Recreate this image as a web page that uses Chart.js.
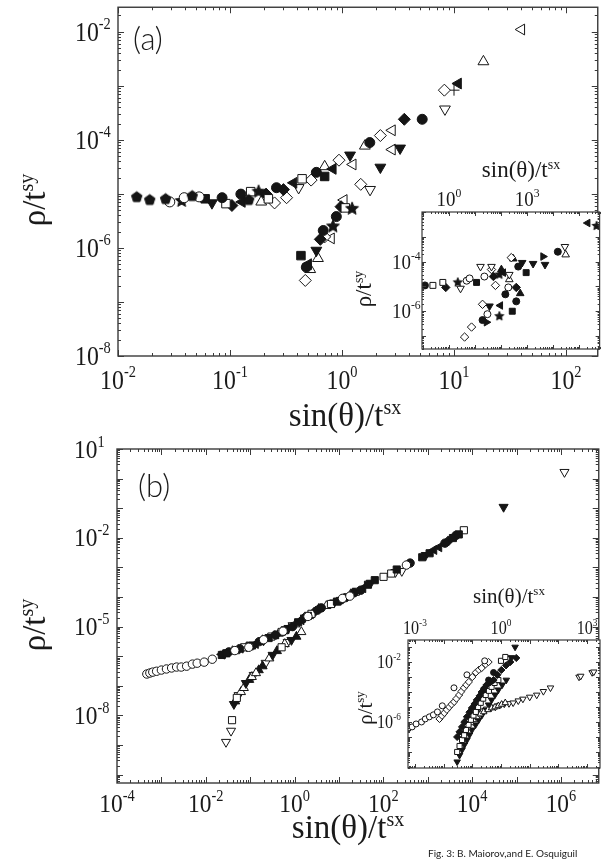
<!DOCTYPE html>
<html>
<head>
<meta charset="utf-8">
<script src="https://cdn.jsdelivr.net/npm/chart.js@4/dist/chart.umd.min.js"></script>
<style>
  body { margin: 0; background: #fff; }
  #wrap { position: relative; width: 605px; height: 861px; }
  #wrap canvas { position: absolute; left: 0; top: 0; }
</style>
</head>
<body>
<div id="wrap">
  <canvas id="mainA" width="605" height="861"></canvas>
  <canvas id="insetA" width="605" height="861"></canvas>
  <canvas id="mainB" width="605" height="861"></canvas>
  <canvas id="insetB" width="605" height="861"></canvas>
</div>
<script>
// ---- panel (a), main plot: [sin(theta)/t^sx, rho/t^sy]
const aPentF = [[0.0147, 8.7e-6], [0.0192, 7.7e-6], [0.0266, 8.0e-6], [0.046, 9.1e-6], [0.147, 7.7e-6]];
const aCircO = [[0.029, 7.1e-6], [0.039, 8.5e-6], [0.053, 8.8e-6]];
const aStarF = [[0.037, 7.4e-6], [0.18, 1.1e-5], [0.83, 2.5e-6], [1.23, 5.3e-6]];
const aSqF = [[0.060, 8.1e-6], [0.70, 2.1e-5], [0.43, 7.2e-7]];
const aDTriF = [[0.069, 6.8e-6], [1.18, 5.2e-5], [0.59, 9e-7], [2.2, 3.1e-5], [3.3, 7e-5]];
const aCircF = [[0.085, 8.5e-6], [0.125, 9.9e-6], [0.26, 1.3e-5], [0.59, 2.5e-5], [1.77, 8.9e-5], [5.2, 2.4e-4], [0.48, 4.4e-7], [0.68, 2.1e-6], [0.89, 3.8e-6]];
const aSqO = [[0.092, 6.6e-6], [0.153, 1.1e-5], [0.22, 8.1e-6], [0.44, 1.9e-5], [1.07, 5.5e-6]];
const aDiaF = [[0.104, 6.1e-6], [0.21, 9.9e-6], [0.30, 1.2e-5], [3.6, 2.4e-4], [0.64, 1.44e-6], [0.98, 5.8e-6]];
const aLTriF = [[0.128, 7.1e-6], [0.37, 1.6e-5], [0.83, 2.9e-5], [10.9, 1.1e-3], [0.50, 5e-7]];
const aTriO = [[0.19, 7.1e-6], [0.70, 3.2e-5], [1.6, 7.7e-5], [18.3, 2.8e-3], [0.52, 4e-7], [0.61, 6.4e-7]];
const aDiaO = [[0.25, 6.8e-6], [0.32, 8.5e-6], [0.53, 1.8e-5], [0.94, 4.2e-5], [2.2, 1.2e-4], [8.2, 8.3e-4], [0.47, 2.5e-7], [0.70, 1.6e-6], [1.47, 1.5e-5]];
const aLTriO = [[1.25, 3.5e-5], [2.8, 1.5e-4], [40, 1.1e-2], [0.80, 1.5e-6], [1.04, 7.7e-6], [2.8, 6.6e-5]];
const aDTriO = [[0.41, 1.3e-5], [1.78, 1.2e-5], [8.3, 3.7e-4]];
const aPlus = [[10, 8.3e-4]];

// ---- panel (a), inset
const iaCircF = [[0.121, 1.1e-5], [455, 6.3e-5], [1.5e4, 2.5e-4], [19.5, 4.4e-7], [146, 4.8e-6], [382, 2.5e-6]];
const iaSqO = [[0.244, 1.1e-5], [0.586, 1.45e-5]];
const iaDiaF = [[0.76, 9.1e-6], [51, 2.5e-5], [382, 9.1e-6]];
const iaDTriO = [[2.8, 8.3e-6], [16.3, 6.3e-5], [43, 6.3e-5], [207, 3.0e-5], [2.8e4, 4.0e-4]];
const iaStarF = [[2.2, 1.45e-5], [86, 3e-5], [4.6e5, 2.75e-3], [86, 6.3e-7]];
const iaCircO = [[4.8, 1.7e-5], [6.2, 2.1e-5], [23, 2.5e-5], [30, 7.6e-7], [190, 9.1e-6]];
const iaSqF = [[11.5, 1.45e-5], [269, 1.0e-6], [916, 3.6e-5]];
const iaDiaO = [[43, 4.8e-5], [247, 1.45e-4], [4.0, 9.1e-8], [7.4, 2.3e-7], [19.5, 1.9e-6], [61, 1.1e-5]];
const iaTriF = [[103, 4.8e-5], [294, 1.3e-4], [542, 5.2e-6]];
const iaLTriF = [[122, 3.6e-5], [2.1e5, 3.6e-3], [94, 1.7e-6]];
const iaTriO = [[207, 1.9e-5], [3.0e4, 1.9e-4]];
const iaDTriF = [[646, 9.1e-5], [1690, 8.3e-5], [4840, 7.6e-5], [36, 1.6e-6]];
const iaRTriF = [[4060, 1.6e-4], [27.6, 3.6e-7]];

// ---- panel (b), main plot
const bCircO = [[4.7e-4, 2.5e-7], [5.5e-4, 2.7e-7], [6.4e-4, 2.9e-7], [7.8e-4, 3.1e-7], [1.0e-3, 3.4e-7], [1.3e-3, 3.7e-7], [1.7e-3, 4.0e-7], [2.2e-3, 4.3e-7], [2.8e-3, 4.3e-7], [3.7e-3, 4.6e-7], [5.0e-3, 5.4e-7], [6.4e-3, 5.8e-7], [9.2e-3, 6.3e-7], [1.4e-2, 7.9e-7], [0.045, 1.55e-6], [0.093, 2.0e-6], [0.2, 3.6e-6], [0.55, 7e-6], [2.0, 2.2e-5], [12, 9e-5], [17.6, 1.07e-4], [330, 1.2e-3]];
const bSqF = [[0.023, 1.1e-6], [0.029, 1.25e-6], [0.11, 2.3e-6], [0.26, 4.1e-6], [0.6, 7.5e-6], [1.2, 1.4e-5], [2.0, 2.3e-5], [9, 7e-5], [45, 2.6e-4], [64, 3.7e-4], [200, 8.5e-4], [750, 2.2e-3], [1100, 3e-3], [3690, 9.8e-3], [5000, 1.3e-2]];
const bCircF = [[0.033, 1.4e-6], [0.058, 1.8e-6], [0.16, 3.1e-6], [0.37, 5.2e-6], [0.9, 1.0e-5], [3.3, 3.6e-5], [4.0, 4.3e-5], [14, 9.5e-5], [22, 1.4e-4], [31, 1.7e-4], [400, 1.4e-3], [2440, 6.6e-3], [4300, 1.2e-2]];
const bSqO = [[0.048, 1.6e-6], [0.073, 2.0e-6], [0.3, 4.6e-6], [0.51, 6.6e-6], [2.4, 2.7e-5], [6.6, 5.8e-5], [24, 1.5e-4], [101, 4.8e-4], [150, 6.2e-4], [6500, 1.8e-2], [0.039, 6.9e-9], [0.050, 3.9e-8], [0.51, 2.0e-6]];
const bDTriF = [[0.026, 1.2e-6], [0.068, 1.9e-6], [0.2, 3.4e-6], [0.73, 8.9e-6], [1.7, 2.0e-5], [7.8, 6.5e-5], [11, 7.9e-5], [52, 3.0e-4], [900, 2.6e-3], [5.1e4, 0.11], [0.043, 2.4e-8], [0.080, 1.23e-7], [0.32, 1.1e-6], [0.85, 3.5e-6]];
const bTriO = [[0.04, 1.5e-6], [0.093, 2.0e-6], [0.44, 5.8e-6], [1.04, 1.2e-5], [5.2, 5.0e-5], [18.5, 1.26e-4], [0.062, 6.2e-8], [0.072, 8.5e-8], [0.109, 2.0e-7], [0.135, 2.7e-7], [0.27, 8.5e-7], [0.6, 2.6e-6], [1.42, 6.6e-6]];
const bLTriF = [[0.023, 1.15e-6], [0.133, 2.6e-6], [0.65, 8.2e-6], [1.42, 1.65e-5], [2.3, 2.6e-5], [35, 2.0e-4], [1390, 3.9e-3], [1800, 4.8e-3]];
const bDiaF = [[0.085, 2.1e-6], [0.191, 3.5e-6], [1.6, 1.9e-5], [2.8, 3.1e-5], [12, 8.5e-5], [2900, 7.8e-3]];
const bTriF = [[0.046, 3.0e-8], [0.095, 1.6e-7], [0.156, 3.4e-7], [0.19, 4.6e-7], [0.35, 4.8e-6], [0.4, 1.5e-6], [1.1, 4.6e-6], [3.5, 4e-5]];
const bDTriO = [[0.0285, 1.26e-9], [0.037, 3.0e-9], [0.055, 4.8e-8], [0.12, 2.3e-7], [0.223, 5.9e-7], [0.7, 3.0e-6], [0.9, 1.1e-5], [187, 6.9e-4], [260, 7.5e-4], [1.2e6, 1.66]];

// ---- panel (b), inset
const ibCircO = [[5.75e-4, 3.5e-7], [8.0e-4, 4.7e-7], [1.1e-3, 7.4e-7], [1.7e-3, 1.0e-6], [2.3e-3, 1.6e-6], [3.2e-3, 2.2e-6], [4.4e-3, 3.0e-6], [6.1e-3, 4.7e-6], [9.0e-3, 1.2e-5], [0.023, 1.9e-4], [0.065, 1.4e-3], [0.27, 1.2e-2]];
const ibDiaO = [[7.2e-3, 1.6e-6], [0.0088, 2.6e-6], [0.0106, 4.0e-6], [0.013, 6.5e-6], [0.0157, 1.0e-5], [0.019, 1.5e-5], [0.0233, 2.2e-5], [0.028, 3.6e-5], [0.0348, 6.3e-5], [0.042, 1.1e-4], [0.0515, 1.9e-4], [0.062, 3e-4], [0.076, 4.7e-4], [0.1, 1.0e-3], [0.133, 2.0e-3], [0.17, 3e-3], [0.213, 4e-3], [0.29, 7e-3], [0.37, 1e-2]];
const ibDiaF = [[0.0297, 1.0e-7], [0.036, 2.2e-7], [0.044, 4.7e-7], [0.053, 1.0e-6], [0.065, 2.2e-6], [0.08, 4.5e-6], [0.097, 8.6e-6], [0.12, 1.6e-5], [0.144, 2.95e-5], [0.18, 5.5e-5], [0.213, 1.0e-4], [0.26, 1.8e-4], [0.316, 3.0e-4], [0.42, 4.5e-4], [0.55, 6.3e-4], [0.75, 1.4e-3], [1.03, 2.95e-3], [1.5, 6e-3], [2.1, 1e-2], [3.4, 1.86e-2]];
const ibSqO = [[0.0297, 1e-8], [0.036, 2.5e-8], [0.044, 6.3e-8], [0.052, 1.3e-7], [0.060, 2.95e-7], [0.074, 6.5e-7], [0.0895, 1.4e-6], [0.11, 2.7e-6], [0.133, 4.7e-6], [0.16, 1e-5], [0.197, 1.9e-5], [0.24, 3.6e-5], [0.293, 6.3e-5], [0.38, 1.2e-4], [0.47, 2.2e-4], [0.6, 4e-4], [0.81, 6.3e-4], [1.0, 1.2e-2], [1.41, 2.17e-2]];
const ibTriO = [[0.0515, 1.9e-7], [0.068, 4e-7], [0.0895, 8.7e-7], [0.11, 1.4e-6], [0.144, 2.2e-6], [0.19, 3.4e-6], [0.25, 4.7e-6], [0.35, 6.5e-6], [0.47, 8.6e-6], [0.62, 1.0e-5], [0.81, 1.2e-5], [1.05, 1.5e-5], [1.41, 1.9e-5]];
const ibDTriF = [[0.0297, 2.2e-9], [0.036, 6e-9], [0.044, 1.4e-8], [0.053, 3e-8], [0.065, 6.3e-8], [0.08, 1.4e-7], [0.097, 2.95e-7], [0.13, 6.5e-7], [0.168, 1.4e-6], [0.22, 3e-6], [0.293, 6.3e-6], [0.37, 1.4e-5], [0.47, 2.95e-5], [0.62, 6.5e-5], [0.81, 1.4e-4], [1.1, 3e-4], [1.53, 6.3e-4], [2.3, 2e-2], [3.1, 0.10]];
const ibDTriO = [[0.0895, 2.2e-6], [0.12, 3e-6], [0.168, 4.0e-6], [0.23, 5.5e-6], [0.316, 7.4e-6], [0.45, 8.6e-6], [0.64, 1.0e-5], [0.9, 1.3e-5], [1.3, 1.6e-5], [1.9, 1.7e-5], [2.65, 1.9e-5], [4, 2.6e-5], [5.8, 3.4e-5], [10, 4.6e-5], [17.6, 6.3e-5], [30, 1.1e-4], [53, 1.9e-4], [524, 1.0e-3], [600, 1.15e-3], [1500, 2.0e-3], [1710, 2.2e-3]];
const ibCircF = [[0.144, 8.6e-6], [0.25, 1.4e-4], [0.37, 6.3e-4], [0.55, 2.0e-3]];

// tick label exponents
const aXExps = [-2, -1, 0, 1, 2], aYExps = [-2, -4, -6, -8];
const iaXExps = [0, 3], iaYExps = [-4, -6];
const bXExps = [-4, -2, 0, 2, 4, 6], bYExps = [1, -2, -5, -8];
const ibXExps = [-3, 0, 3], ibYExps = [-2, -6];

const SERIF = '"Liberation Serif", "Times New Roman", serif';
const INK = '#151515';

function polyMarker(kind, r, filled) {
  const s = Math.ceil(r * 2 + 4), c = document.createElement('canvas');
  c.width = c.height = s;
  const g = c.getContext('2d'), m = s / 2, n = kind === 'star' ? 10 : 5;
  g.beginPath();
  for (let i = 0; i < n; i++) {
    const a = -Math.PI / 2 + i * 2 * Math.PI / n;
    const rr = kind === 'star' && i % 2 ? r * 0.45 : r;
    g.lineTo(m + rr * Math.cos(a), m + rr * Math.sin(a));
  }
  g.closePath();
  g.fillStyle = filled ? INK : '#fff';
  g.fill();
  g.strokeStyle = INK;
  g.lineWidth = 1;
  g.stroke();
  return c;
}

function marker(kind, r) {
  const filled = kind.endsWith('F');
  const k = kind.replace(/[FO]$/, '');
  const m = {
    pointBackgroundColor: filled ? INK : '#fff', pointBorderColor: INK, pointBorderWidth: 1,
    pointRadius: r, pointRotation: 0, pointStyle: 'circle'
  };
  if (k === 'sq') { m.pointStyle = 'rect'; m.pointRadius = r * 1.2; }
  if (k === 'dia') { m.pointStyle = 'rectRot'; m.pointRadius = r * 1.2; }
  if (k.endsWith('ri')) {
    m.pointStyle = 'triangle'; m.pointRadius = r * 1.25;
    m.pointRotation = { tri: 0, dTri: 180, lTri: 270, rTri: 90 }[k];
  }
  if (k === 'pent') m.pointStyle = polyMarker('pent', r * 1.1, filled);
  if (k === 'star') m.pointStyle = polyMarker('star', r * 1.35, filled);
  if (k === 'plus') { m.pointStyle = 'cross'; m.pointRadius = r * 1.1; }
  return m;
}

function ds(pts, kind, r) {
  return Object.assign({ data: pts.map(p => ({ x: p[0], y: p[1] })) }, marker(kind, r));
}

// text with superscript parts, optionally rotated / condensed
function rich(ctx, parts, x, y, o) {
  o = o || {};
  const sx = o.sx || 1;
  let w = 0;
  parts.forEach(p => { ctx.font = p.s + 'px ' + SERIF; p.w = ctx.measureText(p.t).width; w += p.w; });
  ctx.save();
  ctx.translate(x, y);
  if (o.rot) ctx.rotate(-Math.PI / 2);
  ctx.scale(sx, 1);
  let cx = o.align === 'center' ? -w / 2 : o.align === 'right' ? -w : 0;
  ctx.textAlign = 'left';
  ctx.textBaseline = 'alphabetic';
  parts.forEach(p => { ctx.font = p.s + 'px ' + SERIF; ctx.fillText(p.t, cx, p.dy || 0); cx += p.w; });
  ctx.restore();
}
const pow = (e, s) => [{ t: '10', s: s }, { t: String(e), s: Math.round(s * 0.6), dy: -s * 0.42 }];
const sup = (t, u, s) => [{ t: t, s: s }, { t: u, s: Math.round(s * 0.6), dy: -s * 0.36 }];

function logTicks(min, max) {
  const out = [];
  for (let e = Math.floor(Math.log10(min)); e <= Math.ceil(Math.log10(max)); e++) {
    for (let m = 1; m <= 9; m++) {
      const v = m * Math.pow(10, e);
      if (v >= min * 0.999 && v <= max * 1.001) out.push([v, m === 1]);
    }
  }
  return out;
}

const frames = {
  mainA: {
    area: [118, 3, 602, 356], lw: 1.4, major: 6, minor: 3, fs: 28, sx: 0.85,
    xExps: aXExps, xLabY: 389, yExps: aYExps, yLabX: 75,
    titles: [
      { p: sup('sin(θ)/t', 'sx', 33), x: 345, y: 426 },
      { p: sup('ρ/t', 'sy', 33), x: 45, y: 200, rot: true }
    ],
    texts: [{ t: '(a)', x: 133, y: 50, f: '300 31px Lato' }]
  },
  insetA: {
    area: [422, 212, 601, 349], lw: 1.2, major: 4, minor: 2, fs: 21, sx: 0.9, fill: true,
    xExps: iaXExps, xLabY: 206, yExps: iaYExps, yLabX: 392,
    titles: [
      { p: sup('sin(θ)/t', 'sx', 23), x: 521, y: 177 },
      { p: sup('ρ/t', 'sy', 23), x: 371, y: 289, rot: true }
    ],
    texts: []
  },
  mainB: {
    area: [117, 449, 603, 783], lw: 1.4, major: 6, minor: 3, fs: 26, sx: 0.9,
    xExps: bXExps, xLabY: 812, yExps: bYExps, yLabX: 74,
    titles: [
      { p: sup('sin(θ)/t', 'sx', 33), x: 348, y: 838 },
      { p: sup('ρ/t', 'sy', 33), x: 45, y: 625, rot: true }
    ],
    texts: [
      { t: '(b)', x: 138, y: 497, f: '300 31px Lato' },
      { t: 'Fig. 3: B. Maiorov,and E. Osquiguil', x: 428, y: 857, f: '10px Lato' }
    ]
  },
  insetB: {
    area: [408, 640, 603, 768], lw: 1.2, major: 4, minor: 2, fs: 19, sx: 0.85, fill: true,
    xExps: ibXExps, xLabY: 634, yExps: ibYExps, yLabX: 377,
    titles: [
      { p: sup('sin(θ)/t', 'sx', 21), x: 509, y: 603 },
      { p: sup('ρ/t', 'sy', 21), x: 372, y: 708, rot: true }
    ],
    texts: []
  }
};

const logFrame = {
  id: 'logFrame',
  beforeDatasetsDraw(chart) {
    const o = frames[chart.canvas.id], a = chart.chartArea, ctx = chart.ctx;
    if (!o.fill) return;
    ctx.save();
    ctx.fillStyle = '#fff';
    ctx.fillRect(a.left, a.top, a.right - a.left, a.bottom - a.top);
    ctx.restore();
  },
  afterDatasetsDraw(chart) {
    const o = frames[chart.canvas.id], ctx = chart.ctx, a = chart.chartArea;
    const xs = chart.scales.x, ys = chart.scales.y;
    ctx.save();
    ctx.strokeStyle = '#3a3a3a';
    ctx.lineWidth = o.lw;
    ctx.strokeRect(a.left, a.top, a.right - a.left, a.bottom - a.top);
    ctx.lineWidth = 1;
    ctx.beginPath();
    logTicks(xs.min, xs.max).forEach(([v, major]) => {
      const p = Math.round(xs.getPixelForValue(v)) + 0.5, l = major ? o.major : o.minor;
      ctx.moveTo(p, a.bottom); ctx.lineTo(p, a.bottom - l);
      ctx.moveTo(p, a.top); ctx.lineTo(p, a.top + l);
    });
    logTicks(ys.min, ys.max).forEach(([v, major]) => {
      const p = Math.round(ys.getPixelForValue(v)) + 0.5, l = major ? o.major : o.minor;
      ctx.moveTo(a.left, p); ctx.lineTo(a.left + l, p);
      ctx.moveTo(a.right, p); ctx.lineTo(a.right - l, p);
    });
    ctx.stroke();
    ctx.fillStyle = '#1a1a1a';
    o.xExps.forEach(e => rich(ctx, pow(e, o.fs), xs.getPixelForValue(Math.pow(10, e)), o.xLabY, { align: 'center', sx: o.sx }));
    o.yExps.forEach(e => rich(ctx, pow(e, o.fs), o.yLabX, ys.getPixelForValue(Math.pow(10, e)) + o.fs * 0.33, { sx: o.sx }));
    o.titles.forEach(t => rich(ctx, t.p, t.x, t.y, { align: 'center', rot: t.rot }));
    o.texts.forEach(t => { ctx.font = t.f; ctx.textAlign = 'left'; ctx.fillText(t.t, t.x, t.y); });
    ctx.restore();
  }
};

function makeChart(id, datasets, xr, yr) {
  const [L, T, R, B] = frames[id].area;
  return new Chart(document.getElementById(id), {
    type: 'scatter',
    data: { datasets: datasets },
    options: {
      responsive: false, animation: false, events: [],
      layout: { padding: { left: L, top: T, right: 605 - R, bottom: 861 - B } },
      scales: {
        x: { type: 'logarithmic', display: false, min: xr[0], max: xr[1] },
        y: { type: 'logarithmic', display: false, min: yr[0], max: yr[1] }
      },
      plugins: { legend: { display: false }, tooltip: { enabled: false } }
    },
    plugins: [logFrame]
  });
}

// Panel (a) main
makeChart('mainA', [
  ds(aPentF, 'pentF', 5), ds(aCircO, 'circO', 5), ds(aStarF, 'starF', 5), ds(aSqF, 'sqF', 5),
  ds(aDTriF, 'dTriF', 5), ds(aCircF, 'circF', 5), ds(aSqO, 'sqO', 5), ds(aDiaF, 'diaF', 5),
  ds(aLTriF, 'lTriF', 5), ds(aTriO, 'triO', 5), ds(aDiaO, 'diaO', 5), ds(aLTriO, 'lTriO', 5),
  ds(aDTriO, 'dTriO', 5), ds(aPlus, 'plus', 5)
], [0.01, 192], [1e-8, 0.0284]);

// Panel (a) inset
makeChart('insetA', [
  ds(iaCircF, 'circF', 3.5), ds(iaSqO, 'sqO', 3.5), ds(iaDiaF, 'diaF', 3.5), ds(iaDTriO, 'dTriO', 3.5),
  ds(iaStarF, 'starF', 3.5), ds(iaCircO, 'circO', 3.5), ds(iaSqF, 'sqF', 3.5), ds(iaDiaO, 'diaO', 3.5),
  ds(iaTriF, 'triF', 3.5), ds(iaLTriF, 'lTriF', 3.5), ds(iaTriO, 'triO', 3.5), ds(iaDTriF, 'dTriF', 3.5),
  ds(iaRTriF, 'rTriF', 3.5)
], [0.0933, 6.0e5], [3.16e-8, 1e-2]);

// Panel (b) main
makeChart('mainB', [
  ds(bCircO, 'circO', 4.2), ds(bSqF, 'sqF', 4.2), ds(bCircF, 'circF', 4.2), ds(bSqO, 'sqO', 4.2),
  ds(bDTriF, 'dTriF', 4.2), ds(bTriO, 'triO', 4.2), ds(bLTriF, 'lTriF', 4.2), ds(bDiaF, 'diaF', 4.2),
  ds(bTriF, 'triF', 4.2), ds(bDTriO, 'dTriO', 4.2)
], [1e-4, 7.1e6], [5.2e-11, 10]);

// Panel (b) inset
makeChart('insetB', [
  ds(ibCircO, 'circO', 3), ds(ibDiaO, 'diaO', 3), ds(ibDiaF, 'diaF', 3), ds(ibSqO, 'sqO', 3),
  ds(ibTriO, 'triO', 3), ds(ibDTriF, 'dTriF', 3), ds(ibDTriO, 'dTriO', 3), ds(ibCircF, 'circF', 3)
], [5.75e-4, 2818], [8.5e-10, 0.295]);
</script>
</body>
</html>
